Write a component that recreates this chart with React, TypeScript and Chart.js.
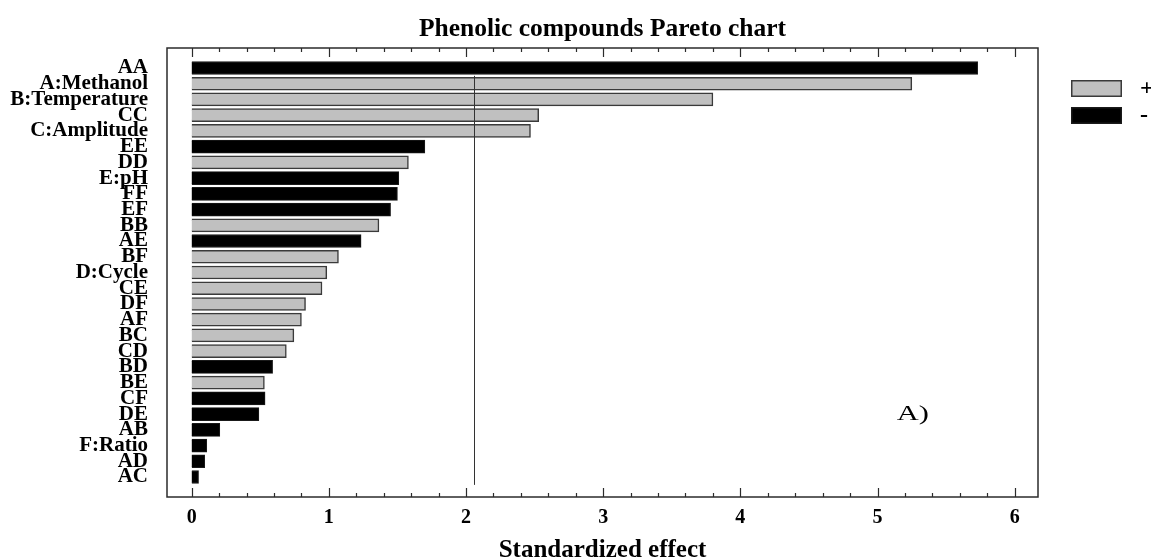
import React, { useEffect, useRef } from 'react';
import { Chart, registerables } from 'chart.js';

Chart.register(...registerables);

const chartTitle = 'Phenolic compounds Pareto chart';
const xAxisTitle = 'Standardized effect';

const factorLabels = [
  'AA', 'A:Methanol', 'B:Temperature', 'CC', 'C:Amplitude', 'EE', 'DD', 'E:pH', 'FF', 'EF',
  'BB', 'AE', 'BF', 'D:Cycle', 'CE', 'DF', 'AF', 'BC', 'CD', 'BD',
  'BE', 'CF', 'DE', 'AB', 'F:Ratio', 'AD', 'AC',
];
const effectValues = [
  5.73, 5.25, 3.8, 2.53, 2.47, 1.7, 1.58, 1.51, 1.5, 1.45,
  1.365, 1.235, 1.07, 0.985, 0.95, 0.83, 0.8, 0.745, 0.69, 0.59,
  0.53, 0.535, 0.49, 0.205, 0.11, 0.095, 0.05,
];
const effectSigns = [
  '-', '+', '+', '+', '+', '-', '+', '-', '-', '-',
  '+', '-', '+', '+', '+', '+', '+', '+', '+', '-',
  '+', '-', '-', '-', '-', '-', '-',
];
const xTicks = [0, 1, 2, 3, 4, 5, 6];
const criticalValue = 2.06;
const legendLabels = ['+', '-'];
const panelLabel = 'A)';

const SERIF = "'Liberation Serif', 'Times New Roman', serif";
const GRAY = '#c0c0c0';

const decorPlugin = {
  id: 'decor',
  afterDatasetsDraw(chart: any) {
    const { ctx, chartArea: a, scales } = chart;
    const xs = scales.x;
    const ys = scales.y;
    ctx.save();
    // critical value line
    const cx = Math.round(xs.getPixelForValue(criticalValue)) + 0.5;
    ctx.strokeStyle = '#333';
    ctx.lineWidth = 1;
    ctx.beginPath();
    ctx.moveTo(cx, ys.getPixelForValue(0.5));
    ctx.lineTo(cx, ys.getPixelForValue(factorLabels.length - 0.5));
    ctx.stroke();

    // frame
    ctx.strokeStyle = '#2b2b2b';
    ctx.lineWidth = 1.5;
    ctx.strokeRect(a.left, a.top, a.right - a.left, a.bottom - a.top);

    // inward ticks top & bottom
    ctx.lineWidth = 1.2;
    const sub = 5;
    for (let i = 0; i < xTicks.length; i++) {
      for (let k = 0; k < sub; k++) {
        if (i === xTicks.length - 1 && k > 0) break;
        const v = xTicks[i] + (k * (xTicks[1] - xTicks[0])) / sub;
        const px = Math.round(xs.getPixelForValue(v)) + 0.5;
        const len = k === 0 ? 9 : 4;
        ctx.beginPath();
        ctx.moveTo(px, a.top);
        ctx.lineTo(px, a.top + len);
        ctx.moveTo(px, a.bottom);
        ctx.lineTo(px, a.bottom - len);
        ctx.stroke();
      }
    }

    // panel label (wide serif)
    ctx.fillStyle = '#000';
    ctx.font = `21px ${SERIF}`;
    ctx.textAlign = 'left';
    ctx.textBaseline = 'alphabetic';
    ctx.save();
    ctx.translate(xs.getPixelForValue(5.14), ys.getPixelForValue(22.35));
    ctx.scale(1.45, 1);
    ctx.fillText(panelLabel, 0, 0);
    ctx.restore();

    // legend
    const lx = a.right + 33;
    chart.data.datasets.forEach((ds: any, i: number) => {
      const ly = 80 + i * 27;
      ctx.fillStyle = ds.backgroundColor;
      ctx.fillRect(lx, ly, 51, 17);
      ctx.strokeStyle = ds.borderColor;
      ctx.lineWidth = 1.5;
      ctx.strokeRect(lx + 0.75, ly + 0.75, 49.5, 15.5);
      ctx.fillStyle = '#000';
      ctx.font = `bold 24px ${SERIF}`;
      ctx.textBaseline = 'middle';
      ctx.fillText(ds.label, lx + 69, ly + 8.5);
    });
    ctx.restore();
  },
};

export default function App() {
  const ref = useRef<HTMLCanvasElement | null>(null);

  useEffect(() => {
    document.body.style.margin = '0';
    const canvas = ref.current;
    if (!canvas) return;

    const pos = factorLabels
      .map((_, i) => i)
      .filter((i) => effectSigns[i] === '+')
      .map((i) => ({ x: effectValues[i], y: i }));
    const neg = factorLabels
      .map((_, i) => i)
      .filter((i) => effectSigns[i] === '-')
      .map((i) => ({ x: effectValues[i], y: i }));

    const chart = new Chart(canvas, {
      type: 'bar',
      data: {
        datasets: [
          {
            label: legendLabels[0],
            data: pos,
            backgroundColor: GRAY,
            borderColor: '#3a3a3a',
            borderWidth: 1.5,
            barThickness: 13,
            grouped: false,
          } as any,
          {
            label: legendLabels[1],
            data: neg,
            backgroundColor: '#000000',
            borderColor: '#1a1a1a',
            borderWidth: 1,
            barThickness: 13,
            grouped: false,
          } as any,
        ],
      },
      plugins: [decorPlugin],
      options: {
        indexAxis: 'y',
        animation: false,
        responsive: false,
        maintainAspectRatio: false,
        devicePixelRatio: 1,
        layout: { padding: { top: 0, left: 0, right: 113, bottom: 0 } },
        plugins: {
          legend: { display: false },
          tooltip: { enabled: false },
          title: {
            display: true,
            text: chartTitle,
            fullSize: false,
            color: '#000',
            font: { family: SERIF, size: 25.5, weight: 'bold', lineHeight: 1.2 },
            padding: { top: 14, bottom: 3.4 },
          },
        },
        scales: {
          x: {
            type: 'linear',
            position: 'bottom',
            min: -0.18,
            max: 6.17,
            offset: false,
            afterBuildTicks: (scale: any) => {
              scale.ticks = xTicks.map((v) => ({ value: v }));
            },
            afterFit: (scale: any) => {
              scale.height = 63;
            },
            grid: { display: false, drawTicks: false },
            border: { display: false },
            ticks: {
              color: '#000',
              padding: 9,
              autoSkip: false,
              maxRotation: 0,
              font: { family: SERIF, size: 20, weight: 'bold' },
              callback: (v: any) => String(v),
            },
            title: {
              display: true,
              text: xAxisTitle,
              color: '#000',
              padding: { top: 0, bottom: -3 },
              font: { family: SERIF, size: 25, weight: 'bold', lineHeight: 1 },
            },
          },
          y: {
            type: 'linear',
            position: 'left',
            reverse: true,
            offset: false,
            bounds: 'data',
            min: -1.27,
            max: factorLabels.length - 1 + 1.27,
            afterBuildTicks: (scale: any) => {
              scale.ticks = factorLabels.map((_, i) => ({ value: i }));
            },
            afterFit: (scale: any) => {
              scale.width = 167;
            },
            grid: { display: false, drawTicks: false },
            border: { display: false },
            ticks: {
              color: '#000',
              padding: 19,
              autoSkip: false,
              font: { family: SERIF, size: 21, weight: 'bold', lineHeight: 1 },
              callback: (v: any) => factorLabels[v] ?? '',
            },
          },
        },
      } as any,
    });

    return () => chart.destroy();
  }, []);

  return (
    <canvas
      ref={ref}
      width={1151}
      height={560}
      style={{ display: 'block', width: '1151px', height: '560px' }}
    />
  );
}
